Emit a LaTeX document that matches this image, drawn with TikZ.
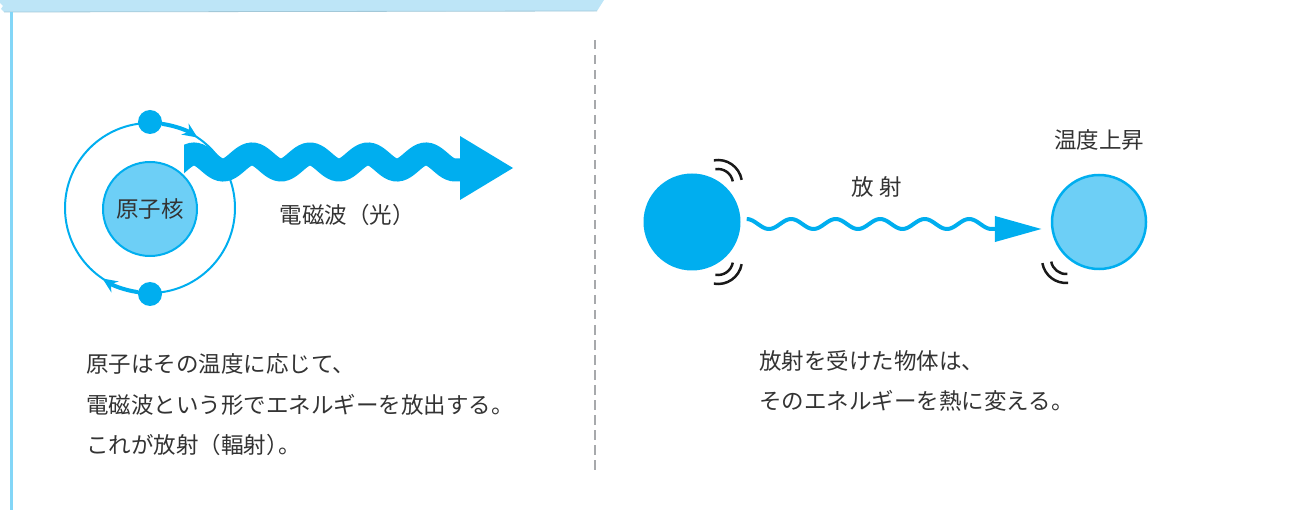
\documentclass[tikz,border=0pt]{standalone}
\usepackage{fontspec}
\setmainfont{Noto Sans CJK JP}
\usetikzlibrary{arrows.meta}

\definecolor{cyanw}{HTML}{00AEEF}
\definecolor{cyanl}{HTML}{6DCFF6}
\definecolor{txt}{HTML}{333333}
\definecolor{tape}{HTML}{BDE5F7}
\definecolor{tapeedge}{HTML}{A3C8D8}
\definecolor{divider}{HTML}{A7A9AC}

\begin{document}
\begin{tikzpicture}[x=1pt, y=-1pt,
    jtext/.style={text=txt, font=\fontsize{22.5}{40.5}\selectfont},
    ball/.style={circle, minimum size=94pt, inner sep=0pt},
    electron/.style={circle, fill=cyanw, minimum size=24pt, inner sep=0pt},
    orbitarrow/.style={cyanw, line width=4pt, -{Stealth[length=15pt, width=13pt]}},
    shake/.style={line width=2.5pt, black!90}]
    \useasboundingbox (0,0) rectangle (1316,510);
    % tape on top, rule on the left, dashed divider
    \fill[tape] (0,0) -- (604,0) -- (597,11) -- (4,12) -- (1,9) -- (3,6) -- (0,3) -- cycle;
    \draw[tapeedge, line width=0.8pt] (4,12) -- (597,11);
    \draw[cyanl!85, line width=3pt] (11.5,12) -- (11.5,510);
    \draw[divider, line width=2.5pt, dash pattern=on 9.5pt off 5.5pt] (595,40) -- (595,470);

    % atom: orbit, nucleus and two electrons
    \node[circle, draw=cyanw, line width=2pt, minimum size=170pt, inner sep=0pt] (orbit) at (150,208) {};
    \node[ball, fill=cyanl, draw=cyanw, line width=2pt, jtext] (nucleus) at (150,209) {原子核};
    \node[electron] (e1) at (orbit.north) {};
    \node[electron] (e2) at (orbit.south) {};
    \draw[orbitarrow] ([shift={(-82:85)}]orbit.center) arc[start angle=-82, end angle=-56, radius=85];
    \draw[orbitarrow] ([shift={(-262:85)}]orbit.center) arc[start angle=-262, end angle=-236, radius=85];

    % thick wave with its arrow head (6.207 = 360/58)
    \begin{scope}
        \clip (184,100) rectangle (470,220);
        \draw[cyanw, line width=23pt] plot[domain=170:455, samples=120] (\x, {162-8*cos(6.207*(\x-194))}) -- (462,170);
    \end{scope}
    \fill[cyanw] (460,136) -- (513,168) -- (460,200) -- cycle;
    \node[jtext] (em) at (347,215) {電磁波（光）};

    % radiating body and receiving body
    \node[ball, fill=cyanw, minimum size=97pt] (hot) at (692,222) {};
    \node[ball, fill=cyanl, draw=cyanw, line width=2.5pt] (warm) at (1099,222) {};
    \coordinate (r0) at ([xshift=6pt, yshift=-2pt]hot.east);
    \coordinate (tip) at ([xshift=-9pt, yshift=-7pt]warm.west);
    % 8.09 = 360/44.5
    \draw[cyanw, line width=4pt, -{Triangle[length=47pt, width=25pt]}, shift={(r0)}]
        plot[domain=0:245, samples=120] (\x, {-5*cos(8.09*\x)}) -- (tip);
    \node[jtext] (rad) at (877,187) {放 射};
    \node[jtext] (heat) at (1099,140) {温度上昇};

    % vibration marks
    \coordinate (v1) at ([shift={(26,-38)}]hot.center);
    \coordinate (v2) at ([shift={(26,38)}]hot.center);
    \coordinate (v3) at ([shift={(-33,37)}]warm.center);
    \foreach \r in {15,24} {
        \draw[shake] ([shift={(-100:\r)}]v1) arc[start angle=-100, end angle=-10, radius=\r];
        \draw[shake] ([shift={(100:\r)}]v2) arc[start angle=100, end angle=10, radius=\r];
        \draw[shake] ([shift={(170:\r)}]v3) arc[start angle=170, end angle=85, radius=\r];
    }

    % captions
    \node[jtext, anchor=west, align=left, inner sep=0pt] (lefttext) at (86,405)
        {原子はその温度に応じて、\\電磁波という形でエネルギーを放出する。\\これが放射（輻射）\kern-.45em。};
    \node[jtext, anchor=west, align=left, inner sep=0pt] (righttext) at (759,381)
        {放射を受けた物体は、\\そのエネルギーを熱に変える。};
\end{tikzpicture}
\end{document}
